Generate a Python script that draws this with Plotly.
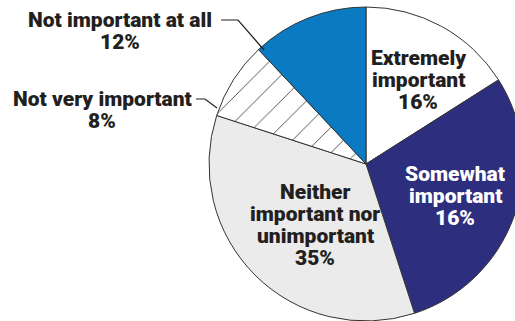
import plotly.graph_objects as go

categories = ["Extremely important", "Somewhat important", "Neither important nor unimportant",
              "Not very important", "Not important at all"]
values = [16, 29, 35, 8, 12]
pct_labels = ["16%", "16%", "35%", "8%", "12%"]
label_lines = [["Extremely", "important"], ["Somewhat", "important"],
               ["Neither", "important nor", "unimportant"],
               ["Not very important"], ["Not important at all"]]
colors = ["#ffffff", "#2d2e7e", "#ebebeb", "#ffffff", "#0a7bc3"]
text_colors = ["#231f20", "#ffffff", "#231f20", "#231f20", "#231f20"]

W, H = 530, 325
FONT = "Roboto, DejaVu Sans Condensed, sans-serif"
LINE_H = 22.3

cx, cy, r = 366, 164, 157

fig = go.Figure(go.Pie(
    labels=categories,
    values=values,
    sort=False,
    direction="clockwise",
    rotation=0,
    textinfo="none",
    hoverinfo="label+value",
    marker=dict(
        colors=colors,
        line=dict(color="#333333", width=1),
        pattern=dict(shape=["", "", "", "/", ""], fgcolor="#444444", size=18, solidity=0.05),
    ),
    domain=dict(x=[(cx - r) / W, (cx + r) / W], y=[1 - (cy + r) / H, 1 - (cy - r) / H]),
    showlegend=False,
))

# label block centres (pixels) for each slice
label_pos = [(418, 80), (455, 196), (315, 225), (102, 110), (120, 31)]

annotations = []
for i, (lines, pct) in enumerate(zip(label_lines, pct_labels)):
    x, yc = label_pos[i]
    all_lines = lines + [pct]
    n = len(all_lines)
    for k, t in enumerate(all_lines):
        y = yc + (k - (n - 1) / 2) * LINE_H
        annotations.append(dict(
            x=x / W, y=1 - y / H, xref="paper", yref="paper",
            text=t, showarrow=False,
            font=dict(family=FONT, size=21, color=text_colors[i], weight=900),
            align="center", xanchor="center", yanchor="middle",
        ))

shapes = [
    dict(type="path", path=f"M {221/W} {1-20/H} L {238/W} {1-20/H} L {264/W} {1-50/H}",
         xref="paper", yref="paper", line=dict(color="#231f20", width=1.2)),
    dict(type="path", path=f"M {196/W} {1-99/H} L {205/W} {1-99/H} L {217/W} {1-108/H}",
         xref="paper", yref="paper", line=dict(color="#231f20", width=1.2)),
]

fig.update_layout(
    width=W, height=H,
    margin=dict(l=0, r=0, t=0, b=0),
    paper_bgcolor="white",
    plot_bgcolor="white",
    annotations=annotations,
    shapes=shapes,
)

fig.write_html("out.html", config={"displayModeBar": False},
               post_script="document.body.style.margin='0';document.body.style.overflow='hidden';")
